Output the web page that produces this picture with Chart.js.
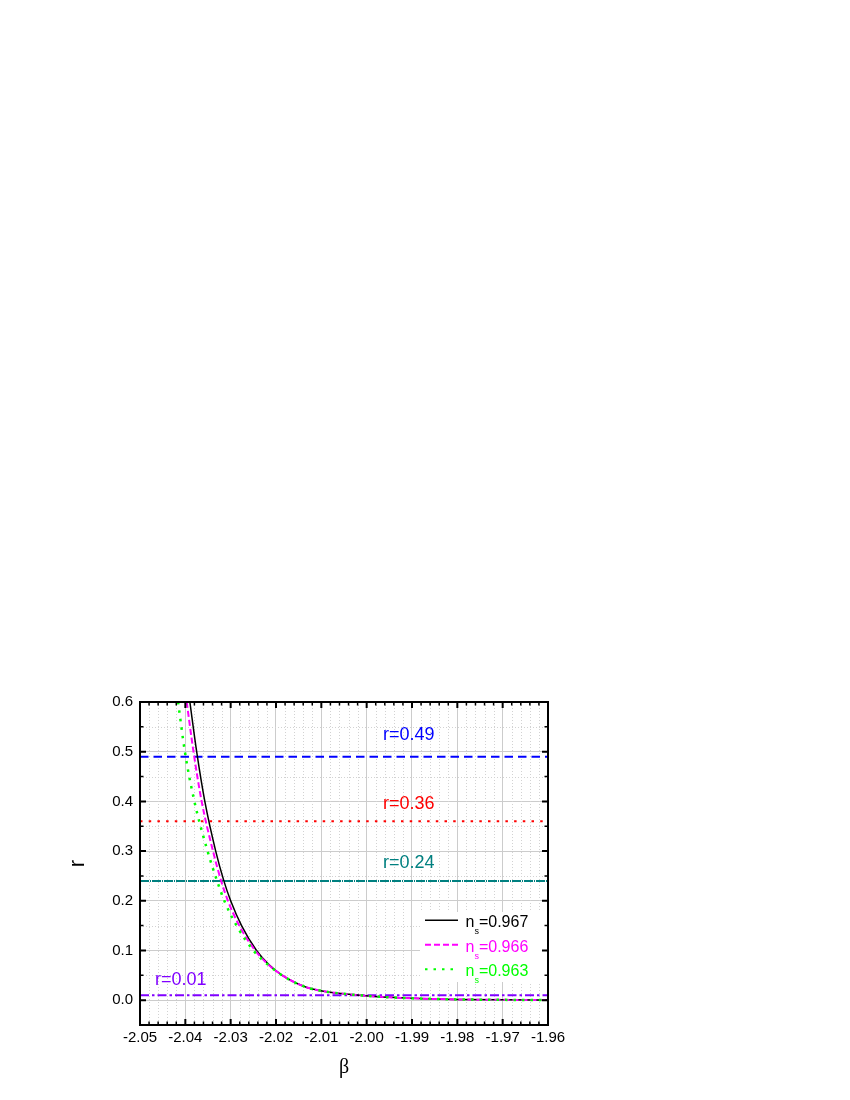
<!DOCTYPE html>
<html>
<head>
<meta charset="utf-8">
<script src="https://cdn.jsdelivr.net/npm/chart.js@4.4.1/dist/chart.umd.min.js"></script>
<style>
  body { margin: 0; background: #fff; }
  #wrap { width: 850px; height: 1100px; }
</style>
</head>
<body>
<div id="wrap"><canvas id="rChart" width="850" height="1100"></canvas></div>
<script>
// curves (beta, r)
const betaBlack = [-2.0390, -2.0375, -2.0357, -2.0333, -2.0315, -2.0300, -2.0276, -2.0243, -2.0214, -2.0186, -2.0157, -2.0130, -2.0110, -2.0085, -2.0055, -2.0022, -1.9990, -1.9950, -1.9900, -1.9850, -1.9800, -1.9700, -1.9600];
const rBlack    = [0.600, 0.500, 0.400, 0.300, 0.240, 0.200, 0.150, 0.100, 0.070, 0.050, 0.035, 0.0250, 0.0205, 0.0165, 0.0132, 0.0103, 0.0080, 0.0057, 0.0037, 0.0024, 0.0015, 0.0006, 0.0002];

const betaMagenta = [-2.0397, -2.0382, -2.0364, -2.0339, -2.0321, -2.0306, -2.0281, -2.0246, -2.0215, -2.0186, -2.0157, -2.0130, -2.0110, -2.0085, -2.0055, -2.0022, -1.9990, -1.9950, -1.9900, -1.9850, -1.9800, -1.9700, -1.9600];
const rMagenta    = [0.600, 0.500, 0.400, 0.300, 0.240, 0.200, 0.150, 0.100, 0.070, 0.050, 0.035, 0.0250, 0.0205, 0.0165, 0.0132, 0.0103, 0.0080, 0.0057, 0.0037, 0.0024, 0.0015, 0.0006, 0.0002];

const betaGreen = [-2.0416, -2.0401, -2.0380, -2.0351, -2.0330, -2.0314, -2.0287, -2.0250, -2.0216, -2.0187, -2.0157, -2.0130, -2.0110, -2.0085, -2.0055, -2.0022, -1.9990, -1.9950, -1.9900, -1.9850, -1.9800, -1.9700, -1.9600];
const rGreen    = [0.600, 0.500, 0.400, 0.300, 0.240, 0.200, 0.150, 0.100, 0.070, 0.050, 0.035, 0.0250, 0.0205, 0.0165, 0.0132, 0.0103, 0.0080, 0.0057, 0.0037, 0.0024, 0.0015, 0.0006, 0.0002];

const levels = [0.49, 0.36, 0.24, 0.01];
const levelColors = ['#0000ff', '#ff0000', '#008080', '#8000ff'];
const levelDash = [[8.5, 5], [2.5, 6.2], [9, 1, 1, 1], [9, 3, 2.5, 3]];
const levelTexts = ['r=0.49', 'r=0.36', 'r=0.24', 'r=0.01'];
const levelTextBeta = [-1.9907, -1.9907, -1.9907, -2.0410];
const levelTextR = [0.523, 0.3855, 0.2667, 0.0296];

const nsLabels = ['=0.967', '=0.966', '=0.963'];
const nsColors = ['#000000', '#ff00ff', '#00ff00'];
const nsDash = [[], [6, 3], [2.5, 6]];

const xMin = -2.05, xMax = -1.96;
const yMin = -0.05, yMax = 0.6;

function zip(xs, ys) {
    return xs.map((x, i) => ({ x: x, y: ys[i] }));
}

const curveSets = [
    { data: zip(betaGreen, rGreen), borderColor: nsColors[2], borderWidth: 2.5, borderDash: nsDash[2], order: 0 },
    { data: zip(betaMagenta, rMagenta), borderColor: nsColors[1], borderWidth: 2, borderDash: nsDash[1], order: 1 },
    { data: zip(betaBlack, rBlack), borderColor: nsColors[0], borderWidth: 1.5, borderDash: nsDash[0], order: 2 }
];

const levelSets = levels.map((lv, i) => ({
    data: [{ x: xMin, y: lv }, { x: xMax, y: lv }],
    borderColor: levelColors[i],
    borderWidth: 2,
    borderDash: levelDash[i],
    order: 3 + i
}));

const datasets = curveSets.concat(levelSets).map(ds => Object.assign({
    showLine: true,
    pointRadius: 0,
    cubicInterpolationMode: 'monotone',
    fill: false
}, ds));

// minor grid, frame, inward ticks, level text and legend
const decorPlugin = {
    id: 'decor',
    beforeDatasetsDraw(chart) {
        const { ctx, chartArea: a, scales: { x, y } } = chart;
        ctx.save();
        ctx.strokeStyle = '#d2d2d2';
        ctx.lineWidth = 1;
        ctx.setLineDash([1, 2]);
        for (let i = 0; i <= 45; i++) {
            if (i % 5 === 0) continue;
            const px = Math.round(x.getPixelForValue(xMin + i * 0.002)) + 0.5;
            ctx.beginPath(); ctx.moveTo(px, a.top); ctx.lineTo(px, a.bottom); ctx.stroke();
        }
        for (let i = 0; i <= 13; i++) {
            if (i % 2 === 1) continue;
            const py = Math.round(y.getPixelForValue(yMin + i * 0.05)) + 0.5;
            ctx.beginPath(); ctx.moveTo(a.left, py); ctx.lineTo(a.right, py); ctx.stroke();
        }
        ctx.restore();
    },
    afterDatasetsDraw(chart) {
        const { ctx, chartArea: a, scales: { x, y } } = chart;
        ctx.save();

        // level texts
        ctx.font = '18px "Liberation Sans", Arial, sans-serif';
        ctx.textAlign = 'center';
        ctx.textBaseline = 'alphabetic';
        levelTexts.forEach((t, i) => {
            ctx.fillStyle = levelColors[i];
            ctx.fillText(t, x.getPixelForValue(levelTextBeta[i]), y.getPixelForValue(levelTextR[i]));
        });

        // legend
        const bx = a.right - 128, by = a.top + 210;
        ctx.fillStyle = '#ffffff';
        ctx.fillRect(bx, by, 127, 70);
        nsLabels.forEach((lab, i) => {
            const base = by + 15 + i * 24.5;
            const ly = base - 6.7;
            ctx.strokeStyle = nsColors[i];
            ctx.lineWidth = i === 0 ? 1.5 : 2;
            ctx.setLineDash(nsDash[i]);
            ctx.beginPath(); ctx.moveTo(bx + 5, ly); ctx.lineTo(bx + 38, ly); ctx.stroke();
            ctx.setLineDash([]);
            ctx.fillStyle = nsColors[i];
            ctx.textAlign = 'left';
            ctx.font = '16px "Liberation Sans", Arial, sans-serif';
            ctx.fillText('n', bx + 45.5, base);
            const nw = ctx.measureText('n').width;
            ctx.font = '9px "Liberation Sans", Arial, sans-serif';
            ctx.fillText('s', bx + 45.5 + nw, base + 7);
            const sw = ctx.measureText('s').width;
            ctx.font = '16px "Liberation Sans", Arial, sans-serif';
            ctx.fillText(lab, bx + 45.5 + nw + sw, base);
        });

        // frame
        ctx.strokeStyle = '#000000';
        ctx.lineWidth = 2;
        ctx.setLineDash([]);
        ctx.strokeRect(a.left, a.top, a.right - a.left, a.bottom - a.top);

        // inward ticks on all four sides
        for (let i = 0; i <= 45; i++) {
            const px = x.getPixelForValue(xMin + i * 0.002);
            const major = i % 5 === 0;
            const len = major ? 6 : 3.5;
            ctx.lineWidth = major ? 2 : 1.5;
            ctx.beginPath();
            ctx.moveTo(px, a.bottom); ctx.lineTo(px, a.bottom - len);
            ctx.moveTo(px, a.top); ctx.lineTo(px, a.top + len);
            ctx.stroke();
        }
        for (let i = 0; i <= 13; i++) {
            const py = y.getPixelForValue(yMin + i * 0.05);
            const major = i % 2 === 1;
            const len = major ? 6 : 3.5;
            ctx.lineWidth = major ? 2 : 1.5;
            ctx.beginPath();
            ctx.moveTo(a.left, py); ctx.lineTo(a.left + len, py);
            ctx.moveTo(a.right, py); ctx.lineTo(a.right - len, py);
            ctx.stroke();
        }
        ctx.restore();
    }
};

const tickFont = { family: '"Liberation Sans", Arial, sans-serif', size: 15 };

new Chart(document.getElementById('rChart'), {
    type: 'scatter',
    data: { datasets: datasets },
    options: {
        responsive: false,
        animation: false,
        devicePixelRatio: 1,
        layout: { padding: { top: 702, right: 302, left: 0, bottom: 0 } },
        plugins: { legend: { display: false }, tooltip: { enabled: false } },
        scales: {
            x: {
                type: 'linear',
                min: xMin,
                max: xMax,
                afterFit: s => { s.height = 75; },
                border: { display: false },
                grid: { color: '#cccccc', lineWidth: 1, drawTicks: false },
                ticks: {
                    stepSize: 0.01,
                    autoSkip: false,
                    maxRotation: 0,
                    padding: 4,
                    color: '#000000',
                    font: tickFont,
                    callback: v => v.toFixed(2)
                },
                title: {
                    display: true,
                    text: 'β',
                    color: '#000000',
                    font: { family: '"Liberation Serif", "Times New Roman", serif', size: 20 },
                    padding: { top: 0, bottom: 20 }
                }
            },
            y: {
                type: 'linear',
                min: yMin,
                max: yMax,
                afterFit: s => { s.width = 140; },
                border: { display: false },
                grid: { color: '#cccccc', lineWidth: 1, drawTicks: false },
                ticks: {
                    stepSize: 0.1,
                    includeBounds: false,
                    padding: 7,
                    color: '#000000',
                    font: tickFont,
                    callback: v => (Math.abs(v) < 1e-9 ? 0 : v).toFixed(1)
                },
                title: {
                    display: true,
                    text: 'r',
                    color: '#000000',
                    font: { family: '"Liberation Sans", Arial, sans-serif', size: 22 },
                    padding: { top: 65, bottom: 0 }
                }
            }
        }
    },
    plugins: [decorPlugin]
});
</script>
</body>
</html>
